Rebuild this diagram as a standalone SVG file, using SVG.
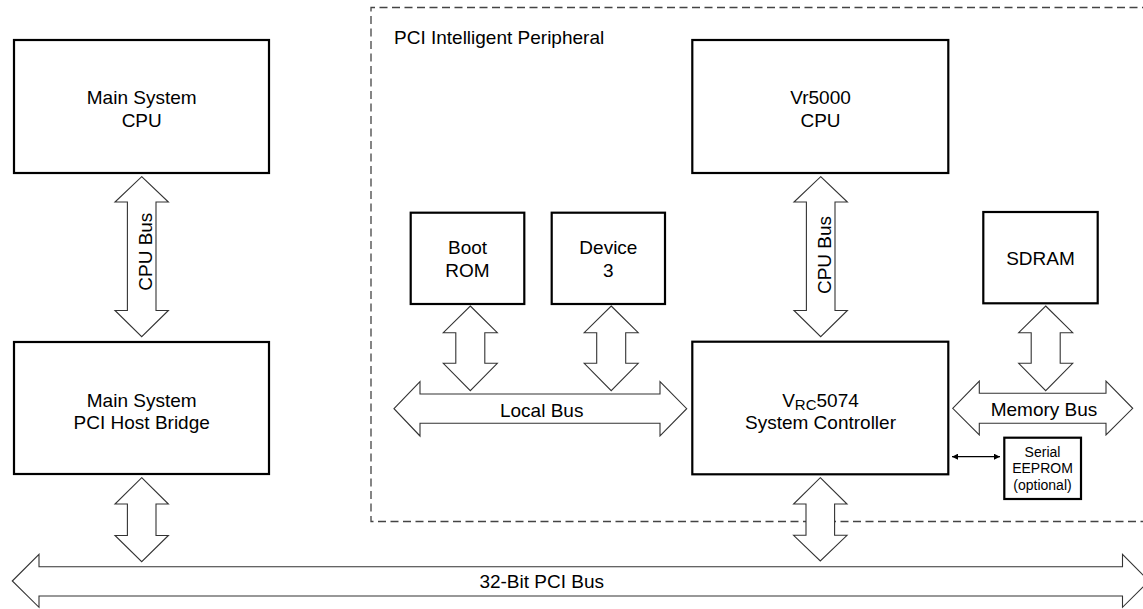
<svg xmlns="http://www.w3.org/2000/svg" width="1143" height="609" viewBox="0 0 1143 609">
<defs>
<style>
.box{fill:#fff;stroke:#000;stroke-width:2.2}
.bus{fill:#fff;stroke:#333;stroke-width:1.1;stroke-linejoin:miter}
.t{font-family:"Liberation Sans",Arial,sans-serif;font-size:19px;fill:#000;text-anchor:middle}
.ts{font-family:"Liberation Sans",Arial,sans-serif;font-size:14px;fill:#000;text-anchor:middle}
.dash{fill:none;stroke:#444;stroke-width:1.3;stroke-dasharray:8 4.5}
</style>
<marker id="ah" viewBox="0 0 10 10" refX="10" refY="5" markerWidth="8" markerHeight="6" markerUnits="userSpaceOnUse" orient="auto-start-reverse">
<path d="M0,0 L10,5 L0,10 z" fill="#000"/>
</marker>
</defs>
<rect width="1143" height="609" fill="#fff"/>

<g id="peripheral-boundary">
<path class="dash" d="M1150,7.5 H371 V521.5 H1150"/>
<text class="t" x="394" y="43.5" style="text-anchor:start">PCI Intelligent Peripheral</text>
</g>

<g id="connectors">
<polygon class="bus" points="141.7,176.7 168.4,202 156,202 156,310.5 168.4,310.5 141.7,336.7 115,310.5 127.4,310.5 127.4,202 115,202"/>
<polygon class="bus" points="820.7,176.7 847.4,202 835,202 835,310.5 847.4,310.5 820.7,336.7 794,310.5 806.4,310.5 806.4,202 794,202"/>
<polygon class="bus" points="141.7,477.7 168.4,504 156,504 156,535.5 168.4,535.5 141.7,561.7 115,535.5 127.4,535.5 127.4,504 115,504"/>
<polygon class="bus" points="820.3,477.7 847,504 834.6,504 834.6,535.3 847,535.3 820.3,561 793.6,535.3 806,535.3 806,504 793.6,504"/>
<polygon class="bus" points="470.3,306 497.3,332.7 484.8,332.7 484.8,363.3 497.3,363.3 470.3,390.7 443.3,363.3 455.8,363.3 455.8,332.7 443.3,332.7"/>
<polygon class="bus" points="611.2,306 638.2,332.7 625.7,332.7 625.7,363.3 638.2,363.3 611.2,390.7 584.2,363.3 596.7,363.3 596.7,332.7 584.2,332.7"/>
<polygon class="bus" points="1045.7,306 1072.7,332.7 1060.2,332.7 1060.2,363.3 1072.7,363.3 1045.7,390.7 1018.7,363.3 1031.2,363.3 1031.2,332.7 1018.7,332.7"/>
<polygon class="bus" points="394,408.7 420,381.7 420,394 660,394 660,381.7 686.7,408.7 660,436 660,423.3 420,423.3 420,436"/>
<polygon class="bus" points="952.7,408.3 979.3,381 979.3,393.3 1106,393.3 1106,381 1132.7,408.3 1106,435 1106,423.3 979.3,423.3 979.3,435"/>
<polygon class="bus" points="12.3,581 39,554.3 39,566.7 1122.5,566.7 1122.5,554.3 1149,581 1122.5,607.3 1122.5,596 39,596 39,607.3"/>
<line x1="952" y1="456.7" x2="1000" y2="456.7" stroke="#000" stroke-width="1.2" marker-start="url(#ah)" marker-end="url(#ah)"/>
<text class="t" transform="translate(151.5,251.7) rotate(-90)">CPU Bus</text>
<text class="t" transform="translate(830.5,255) rotate(-90)">CPU Bus</text>
<text class="t" x="541.7" y="416.7">Local Bus</text>
<text class="t" x="1044" y="416">Memory Bus</text>
<text class="t" x="541.7" y="588.3">32-Bit PCI Bus</text>
</g>

<g id="main-cpu">
<rect class="box" x="14" y="40" width="255" height="133"/>
<text class="t" x="141.7" y="104.3">Main System</text>
<text class="t" x="141.7" y="126.7">CPU</text>
</g>

<g id="host-bridge">
<rect class="box" x="14" y="342" width="255" height="132"/>
<text class="t" x="141.7" y="407.3">Main System</text>
<text class="t" x="141.7" y="429">PCI Host Bridge</text>
</g>

<g id="vr5000">
<rect class="box" x="692.3" y="40" width="256" height="133"/>
<text class="t" x="820.5" y="104.3">Vr5000</text>
<text class="t" x="820.5" y="126.7">CPU</text>
</g>

<g id="boot-rom">
<rect class="box" x="410.7" y="212.7" width="113.6" height="91.3"/>
<text class="t" x="467.5" y="254.3">Boot</text>
<text class="t" x="467.5" y="276.7">ROM</text>
</g>

<g id="device3">
<rect class="box" x="551.7" y="212.7" width="113.3" height="91.3"/>
<text class="t" x="608.4" y="254.3">Device</text>
<text class="t" x="608.4" y="276.7">3</text>
</g>

<g id="sdram">
<rect class="box" x="983.3" y="212" width="114.4" height="91.3"/>
<text class="t" x="1040.5" y="265">SDRAM</text>
</g>

<g id="system-controller">
<rect class="box" x="692.3" y="341.7" width="256" height="132.6"/>
<text class="t" x="820.5" y="406.5">V<tspan font-size="15" dy="3.8">RC</tspan><tspan dy="-3.8">5074</tspan></text>
<text class="t" x="820.5" y="428.5">System Controller</text>
</g>

<g id="serial-eeprom">
<rect class="box" x="1004.3" y="437.7" width="76.7" height="61.3"/>
<text class="ts" x="1042.5" y="456.5">Serial</text>
<text class="ts" x="1042.5" y="473.3">EEPROM</text>
<text class="ts" x="1042.5" y="489.5">(optional)</text>
</g>
</svg>
